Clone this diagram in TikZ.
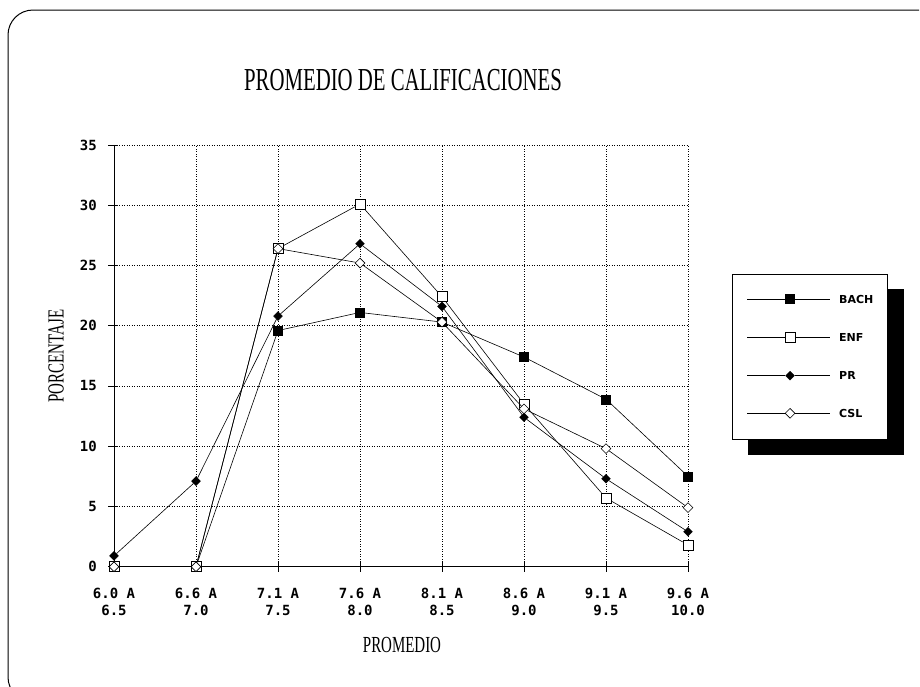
\documentclass[tikz,border=0pt]{standalone}
\usepackage{fontspec}
\newfontfamily\titlefont[FakeStretch=0.65]{Liberation Serif}
\newfontfamily\tickfont{DejaVu Sans Mono}
\newfontfamily\keyfont{DejaVu Sans}
\usetikzlibrary{
    shapes.geometric,
    positioning
}

\tikzset{
    gridline/.style={dotted, line width=0.5pt},
    dataline/.style={line width=0.6pt},
    fullsq/.style={rectangle, fill=black, draw=black, minimum size=9pt, inner sep=0pt},
    opensq/.style={rectangle, fill=white, draw=black, line width=0.7pt, minimum size=10pt, inner sep=0pt},
    fulldia/.style={diamond, fill=black, draw=black, minimum size=9pt, inner sep=0pt},
    opendia/.style={diamond, fill=white, draw=black, line width=0.6pt, minimum size=10pt, inner sep=0pt},
    ticklabel/.style={font=\tickfont\bfseries\fontsize{14}{17}\selectfont, inner sep=0pt},
    keylabel/.style={font=\keyfont\bfseries\fontsize{11}{13}\selectfont, inner sep=0pt, anchor=west}
}

\begin{document}
\begin{tikzpicture}[x=1pt, y=-1pt]
    \useasboundingbox (0, 0) rectangle (920, 686);
    \clip (0, 0) rectangle (920, 686);
    % frame
    \draw[line width=1pt, rounded corners=25pt] (919, 10) -- (8, 10) -- (8, 702) -- (80, 702);
    % titles
    \node[font=\titlefont\fontsize{32}{36}\selectfont] (title) at (403, 80) {PROMEDIO DE CALIFICACIONES};
    \node[font=\titlefont\fontsize{23}{26}\selectfont, rotate=90] (ytitle) at (56, 356) {PORCENTAJE};
    \node[font=\titlefont\fontsize{23}{26}\selectfont] (xtitle) at (402, 645) {PROMEDIO};
    \begin{scope}[shift={(114, 566.7)}, x=82pt, y=12.05pt]
        % grid
        \foreach \v in {5, 10, ..., 35} {
            \draw[gridline] (0, \v) -- (7, \v);
        }
        \foreach \i in {1, ..., 7} {
            \draw[gridline] (\i, 0) -- (\i, 35);
        }
        % axes
        \draw[line width=0.8pt] (0, 35) -- (0, 0) -- (7, 0);
        \foreach \v in {0, 5, ..., 35} {
            \draw[line width=0.6pt] (0, \v) ++(-6pt, 0) -- ++(10pt, 0);
            \node[ticklabel, anchor=east] (ylab-\v) at ([xshift=-17pt]0, \v) {\v};
        }
        \foreach \lab [count=\i from 0] in {{6.0 A\\6.5}, {6.6 A\\7.0}, {7.1 A\\7.5}, {7.6 A\\8.0}, {8.1 A\\8.5}, {8.6 A\\9.0}, {9.1 A\\9.5}, {9.6 A\\10.0}} {
            \draw[line width=0.6pt] (\i, 0) ++(0, 5pt) -- ++(0, -10pt);
            \node[ticklabel, anchor=north, align=center] (xlab-\i) at ([yshift=-21pt]\i, 0) {\lab};
        }
        % BACH
        \foreach \v [count=\i from 0] in {0, 0, 19.6, 21.1, 20.3, 17.4, 13.9, 7.5} {
            \node[fullsq] (bach-\i) at (\i, \v) {};
        }
        \foreach \i in {1, ..., 7} {
            \pgfmathtruncatemacro\j{\i - 1}
            \draw[dataline] (bach-\j) -- (bach-\i);
        }
        % ENF
        \foreach \v [count=\i from 0] in {0, 0, 26.4, 30.1, 22.4, 13.5, 5.7, 1.8} {
            \node[opensq] (enf-\i) at (\i, \v) {};
        }
        \foreach \i in {1, ..., 7} {
            \pgfmathtruncatemacro\j{\i - 1}
            \draw[dataline] (enf-\j) -- (enf-\i);
        }
        % PR
        \foreach \v [count=\i from 0] in {0.9, 7.1, 20.8, 26.8, 21.6, 12.4, 7.3, 2.9} {
            \node[fulldia] (pr-\i) at (\i, \v) {};
        }
        \foreach \i in {1, ..., 7} {
            \pgfmathtruncatemacro\j{\i - 1}
            \draw[dataline] (pr-\j) -- (pr-\i);
        }
        % CSL
        \foreach \v [count=\i from 0] in {0, 0, 26.4, 25.2, 20.3, 13.1, 9.8, 4.9} {
            \node[opendia] (csl-\i) at (\i, \v) {};
        }
        \foreach \i in {1, ..., 7} {
            \pgfmathtruncatemacro\j{\i - 1}
            \draw[dataline] (csl-\j) -- (csl-\i);
        }
    \end{scope}
    % legend
    \fill (748, 289.3) rectangle (904, 455);
    \draw[fill=white, line width=0.8pt] (732.7, 274) rectangle (887.3, 439.3);
    \node[fullsq] (key-bach) at (790, 299) {};
    \node[opensq] (key-enf) at (790, 337.3) {};
    \node[fulldia] (key-pr) at (790, 375.7) {};
    \node[opendia] (key-csl) at (790, 413.3) {};
    \draw[dataline] (747, 299) -- (key-bach) -- (830, 299);
    \draw[dataline] (747, 337.3) -- (key-enf) -- (830, 337.3);
    \draw[dataline] (747, 375.7) -- (key-pr) -- (830, 375.7);
    \draw[dataline] (747, 413.3) -- (key-csl) -- (830, 413.3);
    \node[keylabel] (txt-bach) at (839, 299) {BACH};
    \node[keylabel] (txt-enf) at (839, 337.3) {ENF};
    \node[keylabel] (txt-pr) at (839, 375.7) {PR};
    \node[keylabel] (txt-csl) at (839, 413.3) {CSL};
\end{tikzpicture}
\end{document}
